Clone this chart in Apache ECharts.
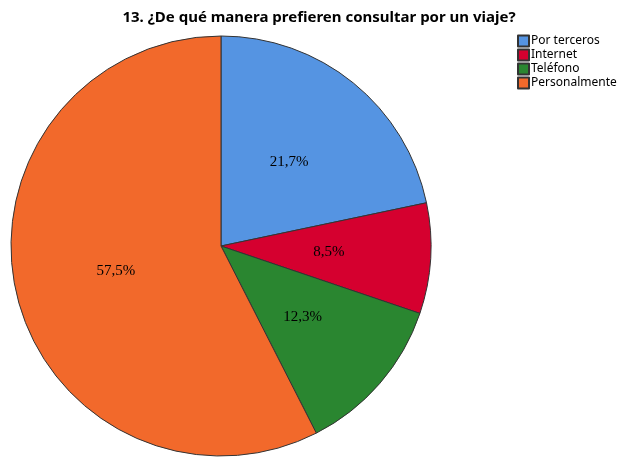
<!DOCTYPE html>
<html>
<head>
<meta charset="utf-8">
<script src="https://cdn.jsdelivr.net/npm/echarts@6/dist/echarts.min.js"></script>
<style>
  html, body { margin: 0; padding: 0; background: #fff; }
  #chart { width: 620px; height: 462px; }
</style>
</head>
<body>
<div id="chart"></div>
<script>
// categories in clockwise order starting from 12 o'clock
var categories = ['Por terceros', 'Internet', 'Teléfono', 'Personalmente'];
var percents = [21.7, 8.5, 12.3, 57.5];
var colors = ['#5594e2', '#d5002f', '#2a8630', '#f2692b'];

var myChart = echarts.init(document.getElementById('chart'));

var option = {
  animation: false,
  title: {
    text: '13. ¿De qué manera prefieren consultar por un viaje?',
    left: 314,
    textAlign: 'center',
    top: 5,
    textStyle: {
      fontFamily: 'Noto Sans',
      fontSize: 15,
      fontWeight: 'bold',
      color: '#000'
    }
  },
  legend: {
    orient: 'vertical',
    left: 512,
    top: 29,
    itemWidth: 11,
    itemHeight: 11,
    itemGap: 0,
    icon: 'rect',
    textStyle: {
      fontFamily: 'Noto Sans',
      fontSize: 12,
      lineHeight: 14,
      color: '#000',
      padding: [0, 0, 0, -3]
    },
    data: categories
  },
  series: [{
    type: 'pie',
    center: [221, 246],
    radius: 210,
    startAngle: 90,
    clockwise: true,
    avoidLabelOverlap: false,
    itemStyle: {
      borderColor: '#333',
      borderWidth: 1
    },
    label: {
      show: true,
      position: 'inner',
      formatter: function (p) {
        return p.value.toFixed(1).replace('.', ',') + '%';
      },
      fontFamily: 'Liberation Serif',
      fontSize: 15,
      color: '#000'
    },
    labelLine: { show: false },
    emphasis: { disabled: true },
    data: categories.map(function (c, i) {
      return { name: c, value: percents[i], itemStyle: { color: colors[i] } };
    })
  }]
};
myChart.setOption(option);
</script>
</body>
</html>
